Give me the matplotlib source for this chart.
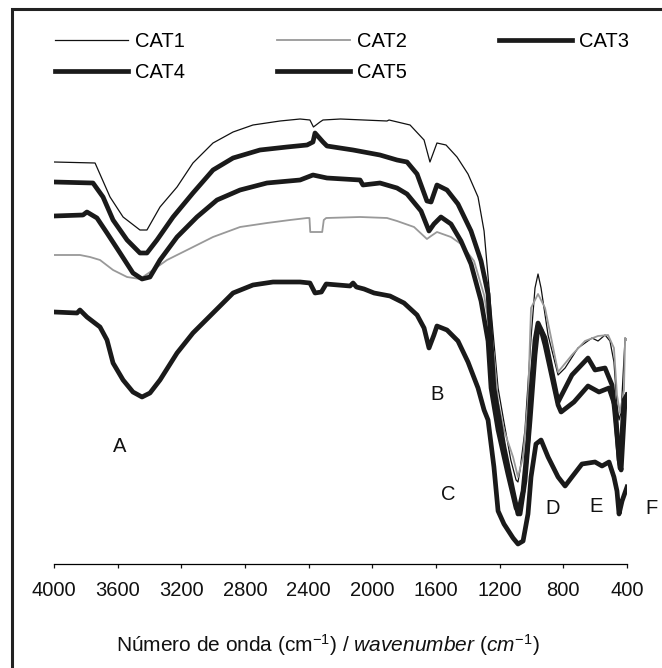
import matplotlib
matplotlib.use("Agg")
import matplotlib.pyplot as plt
from matplotlib.patches import Rectangle

plt.rcParams['font.family'] = ['Liberation Sans', 'DejaVu Sans']
plt.rcParams['mathtext.fontset'] = 'custom'
plt.rcParams['mathtext.rm'] = 'Liberation Sans'
plt.rcParams['mathtext.it'] = 'Liberation Sans:italic'
plt.rcParams['mathtext.sf'] = 'Liberation Sans'

# IR spectra, transmittance in arbitrary units
cat1_wn = [4000, 3742, 3648, 3566, 3460, 3416, 3334, 3227, 3127, 3001, 2875, 2750, 2580, 2454,
           2392, 2370, 2329, 2310, 2200, 1908, 1895, 1763, 1675, 1638, 1594, 1537, 1468, 1399,
           1336, 1298, 1254, 1210, 1173, 1130, 1097, 1085, 1072, 1041, 1003, 978, 959, 940, 896,
           833, 789, 708, 620, 582, 538, 507, 482, 463, 450, 437, 412, 400]
cat1_t = [402, 401, 367, 347, 334, 334, 357, 377, 401, 421, 432, 439, 443, 445,
          444, 437, 442, 444, 445, 443, 444, 439, 424, 402, 421, 419, 407, 390,
          367, 333, 253, 176, 142, 104, 84, 82, 94, 134, 226, 276, 290, 276, 229,
          189, 196, 216, 226, 223, 229, 223, 202, 159, 144, 152, 226, 224]

cat2_wn = [4000, 3837, 3774, 3711, 3629, 3541, 3460, 3378, 3290, 3164, 3001, 2831, 2662, 2517,
           2410, 2395, 2390, 2315, 2305, 2290, 2077, 1908, 1845, 1738, 1657, 1631, 1594, 1506,
           1443, 1361, 1298, 1236, 1210, 1173, 1116, 1085, 1053, 1022, 1003, 959, 915, 833, 746,
           664, 582, 519, 482, 463, 444, 419, 412, 400]
cat2_t = [309, 309, 307, 304, 294, 287, 285, 294, 304, 314, 327, 337, 341, 344,
          346, 346, 332, 332, 344, 346, 347, 346, 343, 337, 325, 328, 332, 327,
          320, 303, 269, 209, 162, 134, 107, 87, 107, 164, 256, 270, 256, 192, 209,
          223, 228, 229, 216, 169, 151, 174, 226, 224]

cat3_wn = [4000, 3755, 3692, 3629, 3541, 3460, 3416, 3353, 3252, 3127, 3001, 2875, 2706, 2536,
           2410, 2373, 2360, 2310, 2285, 2121, 1952, 1845, 1782, 1719, 1657, 1631, 1594, 1531,
           1462, 1380, 1317, 1273, 1236, 1173, 1116, 1085, 1053, 1022, 1003, 978, 959, 915, 833,
           746, 645, 601, 538, 494, 475, 444, 419, 400]
cat3_t = [382, 381, 367, 344, 324, 311, 311, 324, 347, 371, 394, 406, 414, 417,
          419, 422, 431, 422, 418, 414, 409, 404, 402, 390, 363, 362, 379, 374,
          360, 333, 303, 270, 176, 117, 73, 50, 73, 124, 174, 224, 241, 226, 162,
          189, 206, 194, 196, 179, 149, 96, 164, 169]

cat4_wn = [4000, 3818, 3793, 3730, 3667, 3585, 3504, 3447, 3397, 3334, 3227, 3102, 2976, 2831,
           2662, 2454, 2373, 2285, 2077, 2059, 1952, 1845, 1782, 1694, 1644, 1613, 1569, 1506,
           1443, 1380, 1317, 1273, 1254, 1210, 1148, 1097, 1072, 1041, 1009, 978, 959, 940, 915,
           833, 814, 733, 645, 576, 513, 475, 450, 437, 412, 400]
cat4_t = [348, 349, 352, 346, 331, 311, 291, 285, 287, 304, 327, 347, 364, 374,
          381, 384, 389, 386, 384, 379, 381, 376, 370, 353, 333, 340, 347, 340,
          323, 300, 263, 223, 176, 134, 90, 56, 50, 83, 144, 209, 238, 234, 219,
          159, 152, 162, 178, 172, 176, 158, 104, 94, 164, 169]

cat5_wn = [4000, 3855, 3837, 3793, 3711, 3667, 3629, 3566, 3504, 3447, 3397, 3334, 3227, 3127,
           3001, 2875, 2750, 2624, 2454, 2392, 2360, 2320, 2290, 2140, 2121, 2100, 2052, 1989,
           1889, 1801, 1719, 1675, 1644, 1613, 1594, 1531, 1462, 1399, 1336, 1298, 1273, 1236,
           1210, 1173, 1116, 1085, 1053, 1022, 1003, 972, 940, 896, 833, 789, 746, 683, 601,
           557, 513, 482, 463, 450, 431, 400]
cat5_t = [252, 251, 254, 247, 237, 224, 201, 184, 172, 167, 171, 184, 211, 231,
          251, 271, 279, 282, 282, 281, 271, 272, 280, 278, 281, 277, 275, 271,
          268, 261, 249, 236, 216, 229, 238, 234, 223, 202, 176, 154, 144, 97,
          53, 40, 26, 20, 23, 50, 87, 120, 124, 107, 87, 78, 87, 100, 102,
          98, 102, 87, 73, 50, 63, 77]

series = [
    ("CAT1", cat1_wn, cat1_t, "#111111", 0.9),
    ("CAT2", cat2_wn, cat2_t, "#999999", 1.3),
    ("CAT3", cat3_wn, cat3_t, "#1a1a1a", 3.4),
    ("CAT4", cat4_wn, cat4_t, "#1a1a1a", 3.4),
    ("CAT5", cat5_wn, cat5_t, "#1a1a1a", 3.4),
]

band_labels = ["A", "B", "C", "D", "E", "F"]
band_wn = [3585, 1594, 1525, 865, 595, 249]
band_t = [117, 169, 70, 55, 57, 55]

fig = plt.figure(figsize=(6.62, 6.68), dpi=100)
ax = fig.add_axes([54/662, 1 - 564/668, 573/662, 454/668])

lines = {}
for name, wn, t, col, lw in series:
    ln, = ax.plot(wn, t, color=col, lw=lw, solid_joinstyle='round', label=name)
    lines[name] = ln

ax.set_xlim(4000, 400)
ax.set_ylim(0, 454)
ax.set_xticks([4000, 3600, 3200, 2800, 2400, 2000, 1600, 1200, 800, 400])
ax.set_yticks([])
for s in ['top', 'right', 'left']:
    ax.spines[s].set_visible(False)
ax.spines['bottom'].set_linewidth(0.9)
ax.tick_params(axis='x', direction='out', length=3, width=0.9, pad=9,
               labelsize=14.5, colors='#111111')

for lab, x, y in zip(band_labels, band_wn, band_t):
    ax.text(x, y, lab, ha='center', va='center', fontsize=14.5, color='#111111', clip_on=False)

fig.text(328/662, 1 - 645/668,
         r"Número de onda (cm$^{\mathrm{-1}}$) / $\mathit{wavenumber\ (cm^{-1})}$",
         ha='center', va='center', fontsize=15, color='#111111')

order = ["CAT1", "CAT4", "CAT2", "CAT5", "CAT3"]
fig.legend([lines[k] for k in order], order, loc='upper left',
           bbox_to_anchor=(55/662, 1 - 32/668), ncol=3, frameon=False,
           fontsize=14.5, handlelength=3.6, handletextpad=0.35,
           columnspacing=4.6, labelspacing=0.6, borderpad=0, borderaxespad=0)

# outer frame, cropped on the right and bottom
frame_top = 1 - 9/668
fig.add_artist(Rectangle((12/662, -0.2), 1.2, frame_top + 0.2, transform=fig.transFigure,
                         fill=False, lw=2.2, edgecolor='#222222'))

fig.savefig("out.png", dpi=100)
